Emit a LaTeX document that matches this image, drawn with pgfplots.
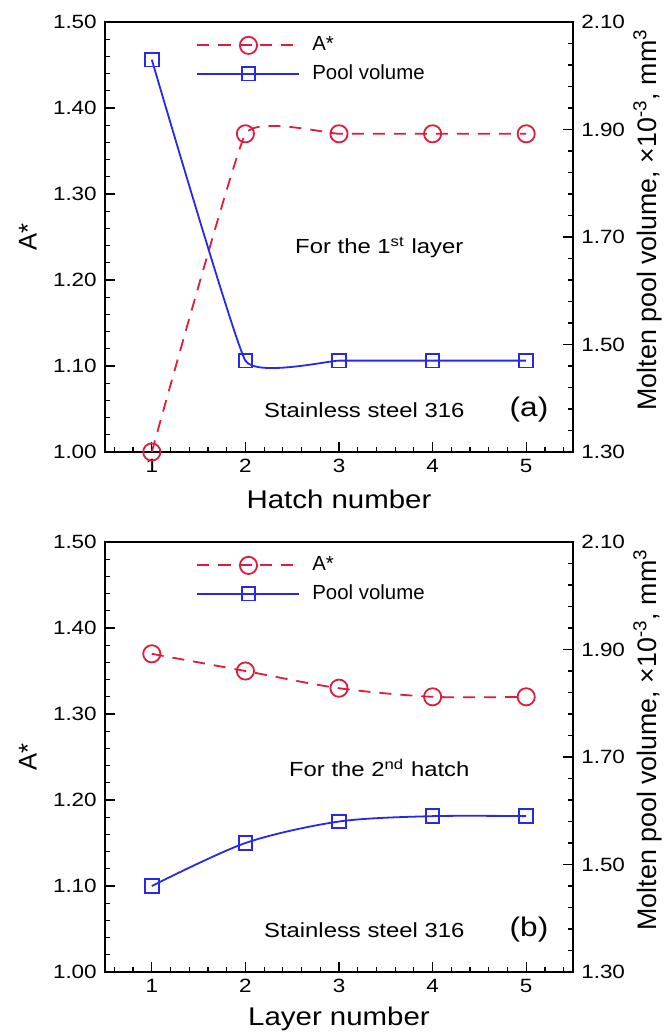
\documentclass[border=0pt]{standalone}
\usepackage{fontspec}
\setmainfont{Liberation Sans}
\usepackage{pgfplots}
\pgfplotsset{compat=1.18}

\definecolor{astar}{RGB}{222,28,62}
\definecolor{pool}{RGB}{40,40,235}

\newcommand{\smallfont}{\fontsize{10.2}{12}\selectfont}
\tikzset{note/.style={font=\smallfont, xscale=1.17}}

\pgfplotsset{
  panel/.style={
    scale only axis, width=234pt, height=215pt,
    xmin=0.5, xmax=5.5, clip=false,
    tick align=inside,
    major tick length=5pt, minor tick length=2.5pt,
    every tick/.style={black, line width=0.6pt},
    axis line style={line width=1pt},
    ticklabel style={font=\fontsize{9.6}{11}\selectfont, xscale=1.17},
    label style={font=\fontsize{12.8}{15}\selectfont},
    /pgf/number format/assume math mode=true,
    yticklabel style={/pgf/number format/.cd, fixed, fixed zerofill, precision=2},
  },
  leftax/.style={panel,
    ymin=1, ymax=1.5, ytick={1.0,1.1,1.2,1.3,1.4,1.5}, minor y tick num=4,
    xtick={1,2,3,4,5}, minor xtick={0.6,0.8,1.2,1.4,1.6,1.8,2.2,2.4,2.6,2.8,3.2,3.4,3.6,3.8,4.2,4.4,4.6,4.8,5.2,5.4},
    xtick pos=bottom, ytick pos=left,
    ylabel={A*},
    ylabel style={at={(axis description cs:-0.165,0.5)}, anchor=center},
    xlabel style={at={(axis description cs:0.5,-0.109)}, anchor=center, xscale=1.15},
  },
  rightax/.style={panel,
    ymin=1.3, ymax=2.1, ytick={1.3,1.5,1.7,1.9,2.1}, minor y tick num=4,
    axis y line*=right, axis x line=none, tick align=inside,
    ylabel={Molten pool volume, ×10\textsuperscript{-3}, mm\textsuperscript{3}},
    ylabel style={at={(axis description cs:1.16,0.54)}, anchor=center,
      font=\fontsize{13.4}{15}\selectfont},
  },
  astarline/.style={astar, dash pattern=on 6pt off 4.5pt, line width=0.9pt, smooth,
    mark=o, mark size=4.3pt, mark options={solid, line width=0.9pt}},
  poolline/.style={pool, line width=0.9pt, smooth,
    mark=square, mark size=3.4pt, mark options={solid, line width=0.9pt}},
  legstyle/.style={legend cell align=left,
    legend style={draw=none, fill=none, at={(axis description cs:0.182,0.985)},
    anchor=north west, font=\smallfont, row sep=1.5pt, column sep=3pt,
    nodes={inner xsep=3pt}},
    legend image code/.code={\draw[mark repeat=2, mark phase=2, ##1]
      plot coordinates {(0pt,0pt) (25.5pt,0pt) (51pt,0pt)};}},
}

\begin{document}
\begin{tikzpicture}
\path[use as bounding box] (0,0) rectangle (335.5pt,-518pt);

% (a) hatches of the first layer
\begin{axis}[leftax, at={(52.5pt,-226pt)}, anchor=south west, xlabel={Hatch number}]
\addplot[astarline, tension=0.2] coordinates {(1,1.00)(2,1.37)(3,1.37)(4,1.37)(5,1.37)};
\node[note] at (axis cs:3.43,1.238) {For the 1\textsuperscript{st} layer};
\node[note] at (axis cs:3.27,1.049) {Stainless steel 316};
\node[note, font=\fontsize{13.5}{15}\selectfont] at (axis cs:5.03,1.049) {(a)};
\end{axis}
\begin{axis}[rightax, legstyle, at={(52.5pt,-226pt)}, anchor=south west]
\addlegendimage{astarline}
\addlegendentry{A*}
\addplot[poolline, tension=0.2] coordinates {(1,2.03)(2,1.47)(3,1.47)(4,1.47)(5,1.47)};
\addlegendentry{Pool volume}
\end{axis}

% (b) second hatch of each layer
\begin{axis}[leftax, at={(52.5pt,-486pt)}, anchor=south west, xlabel={Layer number}]
\addplot[astarline] coordinates {(1,1.37)(2,1.35)(3,1.33)(4,1.32)(5,1.32)};
\node[note] at (axis cs:3.43,1.237) {For the 2\textsuperscript{nd} hatch};
\node[note] at (axis cs:3.27,1.049) {Stainless steel 316};
\node[note, font=\fontsize{13.5}{15}\selectfont] at (axis cs:5.03,1.049) {(b)};
\end{axis}
\begin{axis}[rightax, legstyle, at={(52.5pt,-486pt)}, anchor=south west]
\addlegendimage{astarline}
\addlegendentry{A*}
\addplot[poolline] coordinates {(1,1.46)(2,1.54)(3,1.58)(4,1.59)(5,1.59)};
\addlegendentry{Pool volume}
\end{axis}
\end{tikzpicture}
\end{document}
